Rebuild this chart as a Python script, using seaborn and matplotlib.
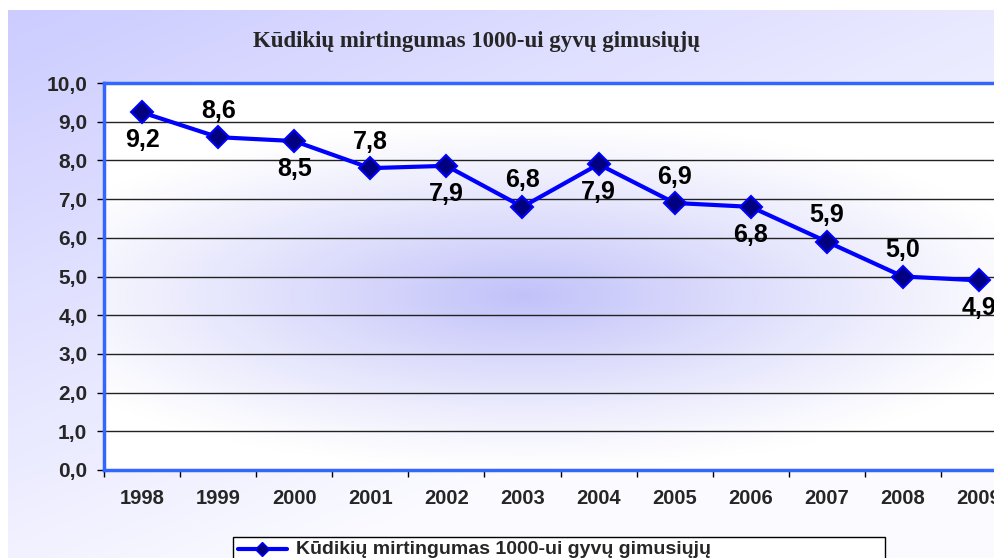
import numpy as np
import pandas as pd
import matplotlib
matplotlib.use("Agg")
import matplotlib.pyplot as plt
import seaborn as sns
from matplotlib.lines import Line2D
from matplotlib.patches import Rectangle

# ── Données ───────────────────────────────────────────────────────────────────
years = ["1998", "1999", "2000", "2001", "2002", "2003",
         "2004", "2005", "2006", "2007", "2008", "2009"]
rates = [9.24, 8.6, 8.5, 7.8, 7.86, 6.8, 7.9, 6.9, 6.8, 5.9, 5.0, 4.9]
label_side = ["below", "above", "below", "above", "below", "above",
              "below", "above", "below", "above", "above", "below"]

title = "Kūdikių mirtingumas 1000-ui gyvų gimusiųjų"
series_name = "Kūdikių mirtingumas 1000-ui gyvų gimusiųjų"

df = pd.DataFrame({"Metai": years, "Rodiklis": rates})

sns.set_theme(style="white")
plt.rcParams["font.family"] = ["Liberation Sans", "DejaVu Sans"]

fig = plt.figure(figsize=(9.95, 5.58), dpi=100)
fig.patch.set_facecolor("white")

# ── Fond dégradé de la figure (lavande en haut à gauche → blanc) ─────────────
bg = fig.add_axes([8 / 995, 0, 1 - 8 / 995, 1 - 10 / 558], zorder=-10)
yy, xx = np.mgrid[0:1:200j, 0:1:200j]
t = np.clip(0.8 * yy + 0.6 * xx, 0, 1)
c0 = np.array([0.80, 0.80, 1.0])
c1 = np.array([0.985, 0.985, 1.0])
img = c0[None, None, :] * (1 - t[..., None]) + c1[None, None, :] * t[..., None]
bg.imshow(img, extent=[0, 1, 0, 1], aspect="auto", origin="upper")
bg.axis("off")

# ── Zone de tracé ────────────────────────────────────────────────────────────
ax = fig.add_axes([104 / 995, 1 - 470 / 558, 913 / 995, 387 / 558])
ax.set_facecolor("white")

# dégradé radial au centre
gy, gx = np.mgrid[0:1:200j, 0:1:300j]
r = np.sqrt(((gx - 0.46) / 0.58) ** 2 + ((gy - 0.55) / 0.45) ** 2)
w = np.clip(1 - r, 0, 1) ** 1.1
cc = np.array([0.76, 0.76, 0.98])
cw = np.array([1.0, 1.0, 1.0])
rad = cc[None, None, :] * w[..., None] + cw[None, None, :] * (1 - w[..., None])
ax.imshow(rad, extent=[0, 1, 0, 1], transform=ax.transAxes, aspect="auto",
          zorder=0, origin="upper")

for v in range(1, 10):
    ax.axhline(v, color="#222222", linewidth=1.0, zorder=1)

sns.lineplot(data=df, x="Metai", y="Rodiklis", ax=ax, color="#0000ff",
             linewidth=3, marker="D", markersize=11,
             markerfacecolor="#000080", markeredgecolor="#0000ff",
             markeredgewidth=1.5, zorder=3, sort=False)

for i, (v, side) in enumerate(zip(rates, label_side)):
    dy = 19 if side == "above" else -20
    ax.annotate(f"{v:.1f}".replace(".", ","), (i, v),
                xytext=(0, dy), textcoords="offset points",
                ha="center", va="center", fontsize=18, fontweight="bold",
                color="black", zorder=4, annotation_clip=False)

ax.set_xlim(-0.5, len(years) - 0.5)
ax.set_ylim(0, 10)
ax.set_yticks(np.arange(0, 10.1, 1))
ax.set_yticklabels([f"{v:.1f}".replace(".", ",") for v in np.arange(0, 10.1, 1)],
                   fontsize=15, fontweight="bold")
ax.set_xticks(range(len(years)))
ax.set_xticklabels(years, fontsize=14.5, fontweight="bold")
ax.set_xticks(np.arange(-0.5, len(years), 1), minor=True)
ax.tick_params(axis="x", which="major", length=0, pad=14)
ax.tick_params(axis="x", which="minor", length=5, width=1, color="black",
               direction="out", bottom=True)
ax.tick_params(axis="y", length=5, width=1, color="black", direction="out",
               left=True, pad=7)
ax.set_xlabel("")
ax.set_ylabel("")
ax.grid(False)

for side in ["left", "top", "bottom"]:
    ax.spines[side].set_color("#3366ff")
    ax.spines[side].set_linewidth(2.5)
ax.spines["right"].set_visible(False)

# ── Titre ────────────────────────────────────────────────────────────────────
fig.text(477 / 995, 1 - 42 / 558, title, ha="center", va="center",
         fontsize=16.5, fontweight="bold",
         family=["Liberation Serif", "DejaVu Serif"])

# ── Légende ──────────────────────────────────────────────────────────────────
fig.patches.append(Rectangle((233 / 995, -0.05), (885 - 233) / 995,
                             (1 - 537 / 558) + 0.05,
                             transform=fig.transFigure, facecolor="white",
                             edgecolor="black", linewidth=1.0, zorder=5))
fig.add_artist(Line2D([238 / 995, 287 / 995], [1 - 549 / 558] * 2,
                      color="#0000ff", linewidth=3, zorder=6))
fig.add_artist(Line2D([262 / 995], [1 - 549 / 558], marker="D", markersize=7,
                      markerfacecolor="#000080", markeredgecolor="#0000ff",
                      linestyle="none", zorder=7))
fig.text(296 / 995, 1 - 549 / 558, series_name, ha="left", va="center",
         fontsize=14, fontweight="bold", zorder=8)

fig.savefig("out.png", dpi=100)
